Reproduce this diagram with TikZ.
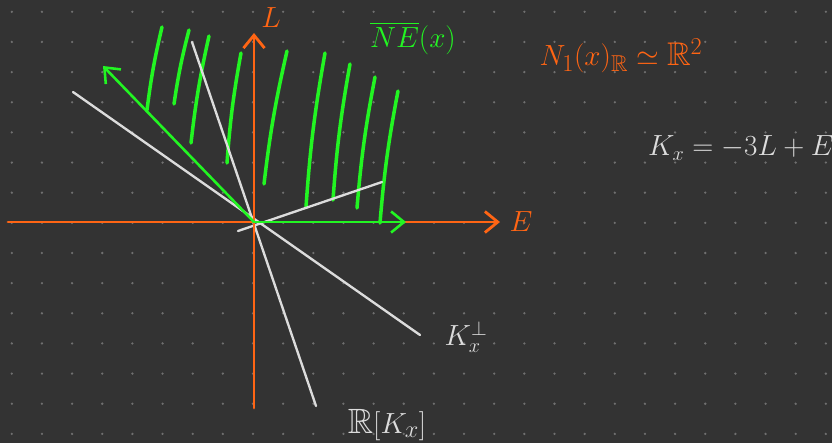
\documentclass[tikz,border=0pt]{standalone}
\usepackage{amsmath,amssymb}
\usepackage{xcolor}
\usepackage{tikz}
\usetikzlibrary{arrows.meta}
\definecolor{board}{HTML}{333333}
\definecolor{griddot}{HTML}{707070}
\definecolor{orange}{HTML}{FF6514}
\definecolor{green}{HTML}{22F522}
\definecolor{chalk}{HTML}{DCDCDC}

\begin{document}
\begin{tikzpicture}[x=0.03cm,y=-0.03cm,line cap=round,line join=round,
    barb/.style={-{Straight Barb[length=11pt,width=18pt]}},
    lbl/.style={font=\fontsize{25}{27}\selectfont,inner sep=0pt}]
  \useasboundingbox (0,0) rectangle (832,443);
  \fill[board] (0,0) rectangle (832,443);
  \foreach \i in {0,...,27}{\foreach \j in {0,...,14}{\fill[griddot] ({11.8+30.15*\i},{11.8+30.15*\j}) circle (1.1pt);}}
  % hatching of the cone
  \foreach \xa/\ya/\xb/\yb in {147/110/162/27,174/104/189/30,191/143/209/36,227/163/241/53,264/184/287/51,306/207/325/53,333/200/350/64,357/208/375/77,380/223/398/91}
    {\draw[green,line width=3pt] (\xa,\ya) to[bend left=3] (\xb,\yb);}
  % white lines
  \draw[chalk,line width=2pt] (73,92) -- (420,335);
  \draw[chalk,line width=2pt] (192,42) -- (316,406);
  \draw[chalk,line width=2pt] (238,231) -- (382,182);
  % axes
  \coordinate (O) at (254,222);
  \draw[orange,line width=2.4pt,barb] (8,222) -- (500,222) node[lbl,right=7pt,text=orange] (axE) {$E$};
  \draw[orange,line width=2.4pt,barb] (254,408) -- (254,33) coordinate (Ltip);
  \node[lbl,text=orange] (axL) at (271,18) {$L$};
  % cone boundary
  \draw[green,line width=2.2pt,barb] (O) -- (103,66);
  \draw[green,line width=2.2pt,barb] (O) -- (406,222);
  % labels
  \node[lbl,text=green] (ne) at (413,38) {$\overline{NE}(x)$};
  \node[lbl,text=orange,font=\fontsize{28}{30}\selectfont] (iso) at (621,56) {$N_1(x)_{\mathbb{R}} \simeq \mathbb{R}^2$};
  \node[lbl,text=chalk] (kx) at (741,148) {$K_x = -3L+E$};
  \node[lbl,text=chalk,font=\fontsize{27}{29}\selectfont] (kperp) at (466,337) {$K_x^{\perp}$};
  \node[lbl,text=chalk,font=\fontsize{30}{32}\selectfont] (span) at (387,425) {$\mathbb{R}[K_x]$};
\end{tikzpicture}
\end{document}
